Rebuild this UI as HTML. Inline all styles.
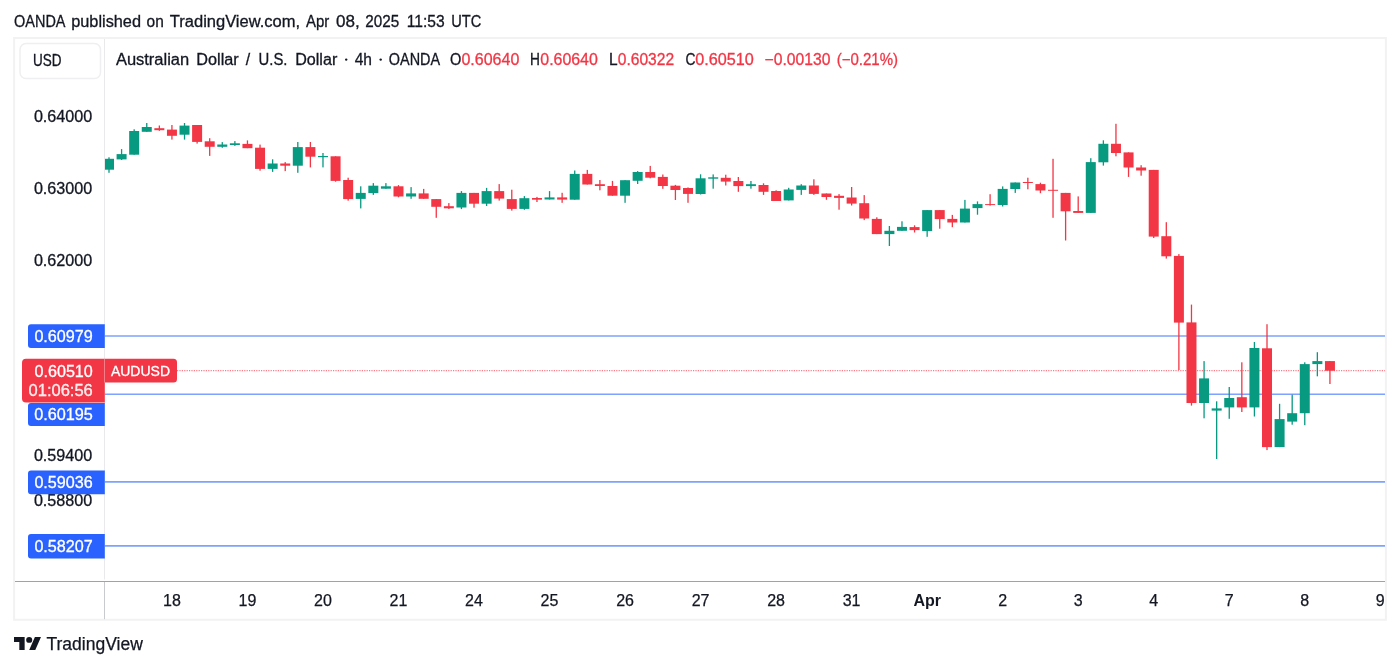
<!DOCTYPE html>
<html><head><meta charset="utf-8">
<style>
html,body{margin:0;padding:0;background:#fff;width:1400px;height:668px;overflow:hidden}
svg{position:absolute;left:0;top:0;will-change:transform;font-family:"Liberation Sans",sans-serif}
</style></head>
<body>
<svg width="1400" height="668" viewBox="0 0 1400 668">
<rect width="1400" height="668" fill="#fff"/>
<text x="14.1" y="26.6" font-size="16" fill="#131722" stroke="#131722" stroke-width="0.3" textLength="51.4" lengthAdjust="spacingAndGlyphs">OANDA</text>
<text x="71.2" y="26.6" font-size="16" fill="#131722" stroke="#131722" stroke-width="0.3" textLength="69.8" lengthAdjust="spacingAndGlyphs">published</text>
<text x="146.6" y="26.6" font-size="16" fill="#131722" stroke="#131722" stroke-width="0.3" textLength="17.2" lengthAdjust="spacingAndGlyphs">on</text>
<text x="169.8" y="26.6" font-size="16" fill="#131722" stroke="#131722" stroke-width="0.3" textLength="130.3" lengthAdjust="spacingAndGlyphs">TradingView.com,</text>
<text x="306.0" y="26.6" font-size="16" fill="#131722" stroke="#131722" stroke-width="0.3" textLength="23.3" lengthAdjust="spacingAndGlyphs">Apr</text>
<text x="336.1" y="26.6" font-size="16" fill="#131722" stroke="#131722" stroke-width="0.3" textLength="23.7" lengthAdjust="spacingAndGlyphs">08,</text>
<text x="365.3" y="26.6" font-size="16" fill="#131722" stroke="#131722" stroke-width="0.3" textLength="33.9" lengthAdjust="spacingAndGlyphs">2025</text>
<text x="406.7" y="26.6" font-size="16" fill="#131722" stroke="#131722" stroke-width="0.3" textLength="37.9" lengthAdjust="spacingAndGlyphs">11:53</text>
<text x="451.2" y="26.6" font-size="16" fill="#131722" stroke="#131722" stroke-width="0.3" textLength="30.1" lengthAdjust="spacingAndGlyphs">UTC</text>
<!-- frame -->
<rect x="14.1" y="38.05" width="1371.8" height="581.7" fill="none" stroke="#f2f2f3" stroke-width="2"/>
<line x1="104.5" y1="39" x2="104.5" y2="579.5" stroke="#e9e9ec" stroke-width="1"/>
<line x1="104.5" y1="582" x2="104.5" y2="619.2" stroke="#c9cace" stroke-width="1"/>
<line x1="15" y1="581.5" x2="1385" y2="581.5" stroke="#9fa2aa" stroke-width="1"/>
<!-- USD box -->
<rect x="20" y="43.5" width="80.5" height="35" rx="6" fill="#fff" stroke="#efeff1" stroke-width="1.5"/>
<text x="33" y="66.1" font-size="16" fill="#131722" stroke="#131722" stroke-width="0.3" textLength="28.5" lengthAdjust="spacingAndGlyphs">USD</text>
<!-- legend -->
<text x="115.9" y="65" font-size="16" fill="#131722" stroke="#131722" stroke-width="0.3" textLength="73.3" lengthAdjust="spacingAndGlyphs">Australian</text>
<text x="196.3" y="65" font-size="16" fill="#131722" stroke="#131722" stroke-width="0.3" textLength="42.4" lengthAdjust="spacingAndGlyphs">Dollar</text>
<text x="245.8" y="65" font-size="16" fill="#131722" stroke="#131722" stroke-width="0.3" textLength="4.4" lengthAdjust="spacingAndGlyphs">/</text>
<text x="258.6" y="65" font-size="16" fill="#131722" stroke="#131722" stroke-width="0.3" textLength="28.9" lengthAdjust="spacingAndGlyphs">U.S.</text>
<text x="295.2" y="65" font-size="16" fill="#131722" stroke="#131722" stroke-width="0.3" textLength="42.1" lengthAdjust="spacingAndGlyphs">Dollar</text>
<text x="354.7" y="65" font-size="16" fill="#131722" stroke="#131722" stroke-width="0.3" textLength="17.3" lengthAdjust="spacingAndGlyphs">4h</text>
<text x="388.8" y="65" font-size="16" fill="#131722" stroke="#131722" stroke-width="0.3" textLength="51.3" lengthAdjust="spacingAndGlyphs">OANDA</text>
<circle cx="346.2" cy="59.6" r="1.2" fill="#131722"/><circle cx="380.7" cy="59.6" r="1.2" fill="#131722"/>
<text x="461.4" y="65" font-size="16" fill="#f23645" stroke="#f23645" stroke-width="0.3" textLength="57.9" lengthAdjust="spacingAndGlyphs">0.60640</text>
<text x="540.3" y="65" font-size="16" fill="#f23645" stroke="#f23645" stroke-width="0.3" textLength="57.5" lengthAdjust="spacingAndGlyphs">0.60640</text>
<text x="617.8" y="65" font-size="16" fill="#f23645" stroke="#f23645" stroke-width="0.3" textLength="56.3" lengthAdjust="spacingAndGlyphs">0.60322</text>
<text x="695.2" y="65" font-size="16" fill="#f23645" stroke="#f23645" stroke-width="0.3" textLength="58.6" lengthAdjust="spacingAndGlyphs">0.60510</text>
<text x="764.6" y="65" font-size="16" fill="#f23645" stroke="#f23645" stroke-width="0.3" textLength="65.8" lengthAdjust="spacingAndGlyphs">−0.00130</text>
<text x="836.7" y="65" font-size="16" fill="#f23645" stroke="#f23645" stroke-width="0.3" textLength="61.4" lengthAdjust="spacingAndGlyphs">(−0.21%)</text>
<text x="450.0" y="65" font-size="16" fill="#131722" stroke="#131722" stroke-width="0.3" textLength="11.3" lengthAdjust="spacingAndGlyphs">O</text>
<text x="530.1" y="65" font-size="16" fill="#131722" stroke="#131722" stroke-width="0.3" textLength="9.9" lengthAdjust="spacingAndGlyphs">H</text>
<text x="608.9" y="65" font-size="16" fill="#131722" stroke="#131722" stroke-width="0.3" textLength="8.6" lengthAdjust="spacingAndGlyphs">L</text>
<text x="685.5" y="65" font-size="16" fill="#131722" stroke="#131722" stroke-width="0.3" textLength="10.0" lengthAdjust="spacingAndGlyphs">C</text>
<!-- blue lines -->
<g stroke="#2962ff" stroke-opacity="0.6" stroke-width="1.6">
<line x1="105" y1="336" x2="1385" y2="336"/>
<line x1="105" y1="394.2" x2="1385" y2="394.2"/>
<line x1="105" y1="481.9" x2="1385" y2="481.9"/>
<line x1="105" y1="545.9" x2="1385" y2="545.9"/>
</g>
<!-- current price dotted line -->
<line x1="177" y1="370.6" x2="1385" y2="370.6" stroke="#f23645" stroke-opacity="0.65" stroke-width="1.2" stroke-dasharray="1.2 1.2"/>
<!-- candles -->
<clipPath id="pc"><rect x="105" y="39" width="1280" height="542"/></clipPath>
<g clip-path="url(#pc)">
<rect x="108.35" y="157.3" width="1.3" height="15.5" fill="#089981"/>
<rect x="104.00" y="158.8" width="10.0" height="10.9" fill="#089981"/>
<rect x="120.94" y="149.1" width="1.3" height="10.9" fill="#089981"/>
<rect x="116.59" y="154.1" width="10.0" height="5.3" fill="#089981"/>
<rect x="133.52" y="129.3" width="1.3" height="25.4" fill="#089981"/>
<rect x="129.17" y="131.0" width="10.0" height="23.7" fill="#089981"/>
<rect x="146.11" y="123.0" width="1.3" height="8.8" fill="#089981"/>
<rect x="141.76" y="127.0" width="10.0" height="4.8" fill="#089981"/>
<rect x="158.70" y="125.5" width="1.3" height="5.3" fill="#f23645"/>
<rect x="154.35" y="128.2" width="10.0" height="2.0" fill="#f23645"/>
<rect x="171.28" y="125.0" width="1.3" height="14.6" fill="#f23645"/>
<rect x="166.94" y="129.6" width="10.0" height="6.2" fill="#f23645"/>
<rect x="183.87" y="123.0" width="1.3" height="16.6" fill="#089981"/>
<rect x="179.52" y="125.6" width="10.0" height="9.1" fill="#089981"/>
<rect x="196.46" y="125.0" width="1.3" height="18.6" fill="#f23645"/>
<rect x="192.11" y="125.0" width="10.0" height="16.9" fill="#f23645"/>
<rect x="209.05" y="138.2" width="1.3" height="17.7" fill="#f23645"/>
<rect x="204.70" y="141.3" width="10.0" height="5.5" fill="#f23645"/>
<rect x="221.63" y="142.1" width="1.3" height="5.7" fill="#089981"/>
<rect x="217.28" y="144.5" width="10.0" height="2.3" fill="#089981"/>
<rect x="234.22" y="141.1" width="1.3" height="4.8" fill="#089981"/>
<rect x="229.87" y="143.3" width="10.0" height="1.7" fill="#089981"/>
<rect x="246.81" y="140.4" width="1.3" height="7.8" fill="#f23645"/>
<rect x="242.46" y="143.9" width="10.0" height="4.3" fill="#f23645"/>
<rect x="259.39" y="144.6" width="1.3" height="26.1" fill="#f23645"/>
<rect x="255.04" y="147.7" width="10.0" height="21.2" fill="#f23645"/>
<rect x="271.98" y="159.3" width="1.3" height="12.6" fill="#089981"/>
<rect x="267.63" y="163.5" width="10.0" height="5.4" fill="#089981"/>
<rect x="284.57" y="162.1" width="1.3" height="9.0" fill="#f23645"/>
<rect x="280.22" y="163.5" width="10.0" height="2.2" fill="#f23645"/>
<rect x="297.16" y="142.0" width="1.3" height="30.8" fill="#089981"/>
<rect x="292.81" y="147.1" width="10.0" height="18.6" fill="#089981"/>
<rect x="309.74" y="142.0" width="1.3" height="25.4" fill="#f23645"/>
<rect x="305.39" y="147.1" width="10.0" height="9.6" fill="#f23645"/>
<rect x="322.33" y="153.0" width="1.3" height="14.4" fill="#089981"/>
<rect x="317.98" y="156.0" width="10.0" height="1.2" fill="#089981"/>
<rect x="334.92" y="156.3" width="1.3" height="25.4" fill="#f23645"/>
<rect x="330.57" y="156.3" width="10.0" height="24.6" fill="#f23645"/>
<rect x="347.50" y="177.7" width="1.3" height="23.0" fill="#f23645"/>
<rect x="343.15" y="180.0" width="10.0" height="19.1" fill="#f23645"/>
<rect x="360.09" y="186.3" width="1.3" height="22.1" fill="#089981"/>
<rect x="355.74" y="192.9" width="10.0" height="6.0" fill="#089981"/>
<rect x="372.68" y="183.1" width="1.3" height="11.8" fill="#089981"/>
<rect x="368.33" y="185.7" width="10.0" height="7.4" fill="#089981"/>
<rect x="385.26" y="183.1" width="1.3" height="5.6" fill="#089981"/>
<rect x="380.91" y="186.3" width="10.0" height="2.4" fill="#089981"/>
<rect x="397.85" y="185.1" width="1.3" height="12.2" fill="#f23645"/>
<rect x="393.50" y="186.3" width="10.0" height="10.2" fill="#f23645"/>
<rect x="410.44" y="187.1" width="1.3" height="11.7" fill="#089981"/>
<rect x="406.09" y="193.4" width="10.0" height="3.1" fill="#089981"/>
<rect x="423.03" y="188.9" width="1.3" height="9.9" fill="#f23645"/>
<rect x="418.68" y="193.4" width="10.0" height="5.4" fill="#f23645"/>
<rect x="435.61" y="199.1" width="1.3" height="18.7" fill="#f23645"/>
<rect x="431.26" y="199.1" width="10.0" height="7.7" fill="#f23645"/>
<rect x="448.20" y="203.1" width="1.3" height="5.8" fill="#f23645"/>
<rect x="443.85" y="206.2" width="10.0" height="2.1" fill="#f23645"/>
<rect x="460.79" y="191.1" width="1.3" height="18.0" fill="#089981"/>
<rect x="456.44" y="192.9" width="10.0" height="14.6" fill="#089981"/>
<rect x="473.37" y="192.9" width="1.3" height="14.8" fill="#f23645"/>
<rect x="469.02" y="192.9" width="10.0" height="10.8" fill="#f23645"/>
<rect x="485.96" y="187.9" width="1.3" height="18.1" fill="#089981"/>
<rect x="481.61" y="191.1" width="10.0" height="12.6" fill="#089981"/>
<rect x="498.55" y="184.1" width="1.3" height="16.5" fill="#f23645"/>
<rect x="494.20" y="191.1" width="10.0" height="7.5" fill="#f23645"/>
<rect x="511.13" y="189.7" width="1.3" height="20.9" fill="#f23645"/>
<rect x="506.78" y="199.1" width="10.0" height="9.8" fill="#f23645"/>
<rect x="523.72" y="196.1" width="1.3" height="13.7" fill="#089981"/>
<rect x="519.37" y="198.2" width="10.0" height="10.7" fill="#089981"/>
<rect x="536.31" y="196.9" width="1.3" height="5.1" fill="#f23645"/>
<rect x="531.96" y="198.0" width="10.0" height="1.7" fill="#f23645"/>
<rect x="548.90" y="191.1" width="1.3" height="8.4" fill="#089981"/>
<rect x="544.55" y="197.4" width="10.0" height="2.1" fill="#089981"/>
<rect x="561.48" y="192.8" width="1.3" height="10.0" fill="#f23645"/>
<rect x="557.13" y="197.4" width="10.0" height="2.2" fill="#f23645"/>
<rect x="574.07" y="170.5" width="1.3" height="29.2" fill="#089981"/>
<rect x="569.72" y="173.9" width="10.0" height="25.8" fill="#089981"/>
<rect x="586.66" y="169.9" width="1.3" height="14.6" fill="#f23645"/>
<rect x="582.31" y="173.9" width="10.0" height="10.6" fill="#f23645"/>
<rect x="599.24" y="180.0" width="1.3" height="10.3" fill="#f23645"/>
<rect x="594.89" y="184.2" width="10.0" height="1.8" fill="#f23645"/>
<rect x="611.83" y="180.9" width="1.3" height="14.8" fill="#f23645"/>
<rect x="607.48" y="186.0" width="10.0" height="9.7" fill="#f23645"/>
<rect x="624.42" y="180.2" width="1.3" height="22.6" fill="#089981"/>
<rect x="620.07" y="180.2" width="10.0" height="15.5" fill="#089981"/>
<rect x="637.00" y="171.1" width="1.3" height="12.9" fill="#089981"/>
<rect x="632.65" y="172.0" width="10.0" height="8.8" fill="#089981"/>
<rect x="649.59" y="165.9" width="1.3" height="12.4" fill="#f23645"/>
<rect x="645.24" y="172.0" width="10.0" height="5.7" fill="#f23645"/>
<rect x="662.18" y="174.5" width="1.3" height="14.3" fill="#f23645"/>
<rect x="657.83" y="176.9" width="10.0" height="9.1" fill="#f23645"/>
<rect x="674.76" y="184.9" width="1.3" height="15.1" fill="#f23645"/>
<rect x="670.41" y="185.7" width="10.0" height="4.3" fill="#f23645"/>
<rect x="687.35" y="187.4" width="1.3" height="15.4" fill="#f23645"/>
<rect x="683.00" y="188.0" width="10.0" height="5.9" fill="#f23645"/>
<rect x="699.94" y="174.3" width="1.3" height="20.2" fill="#089981"/>
<rect x="695.59" y="178.3" width="10.0" height="15.7" fill="#089981"/>
<rect x="712.53" y="174.4" width="1.3" height="14.3" fill="#089981"/>
<rect x="708.18" y="177.3" width="10.0" height="1.4" fill="#089981"/>
<rect x="725.11" y="174.7" width="1.3" height="10.8" fill="#f23645"/>
<rect x="720.76" y="177.8" width="10.0" height="3.8" fill="#f23645"/>
<rect x="737.70" y="177.0" width="1.3" height="14.8" fill="#f23645"/>
<rect x="733.35" y="181.0" width="10.0" height="5.1" fill="#f23645"/>
<rect x="750.29" y="181.0" width="1.3" height="7.7" fill="#089981"/>
<rect x="745.94" y="184.2" width="10.0" height="1.9" fill="#089981"/>
<rect x="762.87" y="183.3" width="1.3" height="11.6" fill="#f23645"/>
<rect x="758.52" y="185.0" width="10.0" height="6.8" fill="#f23645"/>
<rect x="775.46" y="190.3" width="1.3" height="10.7" fill="#f23645"/>
<rect x="771.11" y="191.0" width="10.0" height="10.0" fill="#f23645"/>
<rect x="788.05" y="187.8" width="1.3" height="12.6" fill="#089981"/>
<rect x="783.70" y="189.5" width="10.0" height="10.9" fill="#089981"/>
<rect x="800.63" y="184.2" width="1.3" height="10.7" fill="#089981"/>
<rect x="796.28" y="185.5" width="10.0" height="4.4" fill="#089981"/>
<rect x="813.22" y="179.3" width="1.3" height="15.6" fill="#f23645"/>
<rect x="808.87" y="185.5" width="10.0" height="8.4" fill="#f23645"/>
<rect x="825.81" y="193.5" width="1.3" height="6.3" fill="#f23645"/>
<rect x="821.46" y="193.5" width="10.0" height="3.5" fill="#f23645"/>
<rect x="838.40" y="194.1" width="1.3" height="15.6" fill="#f23645"/>
<rect x="834.05" y="195.8" width="10.0" height="2.1" fill="#f23645"/>
<rect x="850.98" y="187.0" width="1.3" height="18.5" fill="#f23645"/>
<rect x="846.63" y="197.5" width="10.0" height="6.1" fill="#f23645"/>
<rect x="863.57" y="195.1" width="1.3" height="25.0" fill="#f23645"/>
<rect x="859.22" y="203.2" width="10.0" height="15.3" fill="#f23645"/>
<rect x="876.16" y="217.3" width="1.3" height="16.8" fill="#f23645"/>
<rect x="871.81" y="218.9" width="10.0" height="15.2" fill="#f23645"/>
<rect x="888.74" y="226.0" width="1.3" height="20.0" fill="#089981"/>
<rect x="884.39" y="230.8" width="10.0" height="3.3" fill="#089981"/>
<rect x="901.33" y="221.3" width="1.3" height="9.5" fill="#089981"/>
<rect x="896.98" y="226.9" width="10.0" height="3.9" fill="#089981"/>
<rect x="913.92" y="225.3" width="1.3" height="7.2" fill="#f23645"/>
<rect x="909.57" y="227.1" width="10.0" height="3.0" fill="#f23645"/>
<rect x="926.50" y="210.1" width="1.3" height="26.7" fill="#089981"/>
<rect x="922.15" y="210.1" width="10.0" height="21.0" fill="#089981"/>
<rect x="939.09" y="210.1" width="1.3" height="18.6" fill="#f23645"/>
<rect x="934.74" y="210.1" width="10.0" height="9.0" fill="#f23645"/>
<rect x="951.68" y="214.9" width="1.3" height="12.3" fill="#f23645"/>
<rect x="947.33" y="218.9" width="10.0" height="3.6" fill="#f23645"/>
<rect x="964.27" y="199.9" width="1.3" height="22.6" fill="#089981"/>
<rect x="959.92" y="208.6" width="10.0" height="13.9" fill="#089981"/>
<rect x="976.85" y="201.4" width="1.3" height="13.3" fill="#089981"/>
<rect x="972.50" y="204.1" width="10.0" height="4.0" fill="#089981"/>
<rect x="989.44" y="194.2" width="1.3" height="11.4" fill="#f23645"/>
<rect x="985.09" y="204.1" width="10.0" height="1.0" fill="#f23645"/>
<rect x="1002.03" y="186.4" width="1.3" height="20.1" fill="#089981"/>
<rect x="997.68" y="188.9" width="10.0" height="16.1" fill="#089981"/>
<rect x="1014.61" y="182.5" width="1.3" height="10.4" fill="#089981"/>
<rect x="1010.26" y="182.5" width="10.0" height="6.5" fill="#089981"/>
<rect x="1027.20" y="177.7" width="1.3" height="11.6" fill="#f23645"/>
<rect x="1022.85" y="182.0" width="10.0" height="1.0" fill="#f23645"/>
<rect x="1039.79" y="182.7" width="1.3" height="10.5" fill="#f23645"/>
<rect x="1035.44" y="184.1" width="10.0" height="6.4" fill="#f23645"/>
<rect x="1052.38" y="158.8" width="1.3" height="59.0" fill="#f23645"/>
<rect x="1048.03" y="189.8" width="10.0" height="1.0" fill="#f23645"/>
<rect x="1064.96" y="192.9" width="1.3" height="47.6" fill="#f23645"/>
<rect x="1060.61" y="192.9" width="10.0" height="18.4" fill="#f23645"/>
<rect x="1077.55" y="196.4" width="1.3" height="16.5" fill="#f23645"/>
<rect x="1073.20" y="211.0" width="10.0" height="1.9" fill="#f23645"/>
<rect x="1090.14" y="158.2" width="1.3" height="54.7" fill="#089981"/>
<rect x="1085.79" y="162.1" width="10.0" height="50.8" fill="#089981"/>
<rect x="1102.72" y="140.3" width="1.3" height="25.3" fill="#089981"/>
<rect x="1098.37" y="143.8" width="10.0" height="18.5" fill="#089981"/>
<rect x="1115.31" y="123.8" width="1.3" height="32.5" fill="#f23645"/>
<rect x="1110.96" y="143.8" width="10.0" height="9.2" fill="#f23645"/>
<rect x="1127.90" y="152.4" width="1.3" height="24.5" fill="#f23645"/>
<rect x="1123.55" y="152.4" width="10.0" height="15.1" fill="#f23645"/>
<rect x="1140.48" y="165.2" width="1.3" height="10.5" fill="#f23645"/>
<rect x="1136.13" y="167.5" width="10.0" height="3.0" fill="#f23645"/>
<rect x="1153.07" y="169.9" width="1.3" height="68.1" fill="#f23645"/>
<rect x="1148.72" y="169.9" width="10.0" height="66.7" fill="#f23645"/>
<rect x="1165.66" y="222.2" width="1.3" height="36.4" fill="#f23645"/>
<rect x="1161.31" y="236.2" width="10.0" height="20.1" fill="#f23645"/>
<rect x="1178.24" y="254.1" width="1.3" height="115.9" fill="#f23645"/>
<rect x="1173.89" y="255.9" width="10.0" height="66.7" fill="#f23645"/>
<rect x="1190.83" y="304.6" width="1.3" height="101.0" fill="#f23645"/>
<rect x="1186.48" y="322.4" width="10.0" height="80.6" fill="#f23645"/>
<rect x="1203.42" y="361.1" width="1.3" height="57.2" fill="#089981"/>
<rect x="1199.07" y="378.4" width="10.0" height="24.6" fill="#089981"/>
<rect x="1216.01" y="401.3" width="1.3" height="57.7" fill="#089981"/>
<rect x="1211.66" y="408.4" width="10.0" height="2.2" fill="#089981"/>
<rect x="1228.59" y="387.0" width="1.3" height="31.8" fill="#089981"/>
<rect x="1224.24" y="398.0" width="10.0" height="9.4" fill="#089981"/>
<rect x="1241.18" y="362.3" width="1.3" height="49.7" fill="#f23645"/>
<rect x="1236.83" y="397.2" width="10.0" height="10.2" fill="#f23645"/>
<rect x="1253.77" y="342.0" width="1.3" height="74.5" fill="#089981"/>
<rect x="1249.42" y="348.0" width="10.0" height="59.4" fill="#089981"/>
<rect x="1266.35" y="324.2" width="1.3" height="125.9" fill="#f23645"/>
<rect x="1262.00" y="348.3" width="10.0" height="98.8" fill="#f23645"/>
<rect x="1278.94" y="403.8" width="1.3" height="43.3" fill="#089981"/>
<rect x="1274.59" y="419.1" width="10.0" height="28.0" fill="#089981"/>
<rect x="1291.53" y="394.7" width="1.3" height="30.0" fill="#089981"/>
<rect x="1287.18" y="413.2" width="10.0" height="8.4" fill="#089981"/>
<rect x="1304.11" y="362.3" width="1.3" height="62.9" fill="#089981"/>
<rect x="1299.76" y="364.1" width="10.0" height="49.1" fill="#089981"/>
<rect x="1316.70" y="352.2" width="1.3" height="24.1" fill="#089981"/>
<rect x="1312.35" y="361.1" width="10.0" height="3.0" fill="#089981"/>
<rect x="1329.29" y="361.1" width="1.3" height="22.9" fill="#f23645"/>
<rect x="1324.94" y="361.1" width="10.0" height="9.6" fill="#f23645"/>
</g>
<!-- price axis labels -->
<g font-size="16" fill="#131722" stroke="#131722" stroke-width="0.3">
<text x="33.9" y="122.3" textLength="58.4" lengthAdjust="spacingAndGlyphs">0.64000</text>
<text x="33.9" y="194.3" textLength="58.4" lengthAdjust="spacingAndGlyphs">0.63000</text>
<text x="33.9" y="266.2" textLength="58.4" lengthAdjust="spacingAndGlyphs">0.62000</text>
<text x="33.9" y="460.6" textLength="58.4" lengthAdjust="spacingAndGlyphs">0.59400</text>
<text x="33.9" y="506.4" textLength="58.4" lengthAdjust="spacingAndGlyphs">0.58800</text>
</g>
<!-- label boxes -->
<path d="M31,324.2 H104.8 V348.1 H31 a3,3 0 0 1 -3,-3 V327.2 a3,3 0 0 1 3,-3 z" fill="#2962ff"/>
<path d="M31,402.9 H104.8 V425.9 H31 a3,3 0 0 1 -3,-3 V405.9 a3,3 0 0 1 3,-3 z" fill="#2962ff"/>
<path d="M31,470.4 H104.8 V494.3 H31 a3,3 0 0 1 -3,-3 V473.4 a3,3 0 0 1 3,-3 z" fill="#2962ff"/>
<path d="M31,534 H104.8 V558.5 H31 a3,3 0 0 1 -3,-3 V537 a3,3 0 0 1 3,-3 z" fill="#2962ff"/>
<path d="M26,358.7 H104.8 V402.5 H26 a4,4 0 0 1 -4,-4 V362.7 a4,4 0 0 1 4,-4 z" fill="#f23645"/>
<path d="M104.8,358.7 H173.5 a3.5,3.5 0 0 1 3.5,3.5 V379 a3.5,3.5 0 0 1 -3.5,3.5 H104.8 z" fill="#f23645"/>
<line x1="104.5" y1="358.7" x2="104.5" y2="382.5" stroke="#ffffff" stroke-opacity="0.25" stroke-width="1"/>
<g font-size="16" fill="#fff" stroke="#fff" stroke-width="0.3">
<text x="34.4" y="341.6" textLength="58.4" lengthAdjust="spacingAndGlyphs">0.60979</text>
<text x="34.5" y="376.5" textLength="58.3" lengthAdjust="spacingAndGlyphs">0.60510</text>
<text x="28.6" y="396.4" textLength="64.2" lengthAdjust="spacingAndGlyphs" fill-opacity="0.88">01:06:56</text>
<text x="34.2" y="419.6" textLength="58.7" lengthAdjust="spacingAndGlyphs">0.60195</text>
<text x="34.4" y="488.2" textLength="58.3" lengthAdjust="spacingAndGlyphs">0.59036</text>
<text x="34.4" y="552.3" textLength="58.3" lengthAdjust="spacingAndGlyphs">0.58207</text>
</g>
<text x="110.9" y="376.4" font-size="14" fill="#fff" stroke="#fff" stroke-width="0.3">AUDUSD</text>
<!-- time axis -->
<g font-size="16" fill="#131722" stroke="#131722" stroke-width="0.25">
<text x="171.9" y="606.4" text-anchor="middle">18</text>
<text x="247.5" y="606.4" text-anchor="middle">19</text>
<text x="323.0" y="606.4" text-anchor="middle">20</text>
<text x="398.5" y="606.4" text-anchor="middle">21</text>
<text x="474.0" y="606.4" text-anchor="middle">24</text>
<text x="549.5" y="606.4" text-anchor="middle">25</text>
<text x="625.1" y="606.4" text-anchor="middle">26</text>
<text x="700.6" y="606.4" text-anchor="middle">27</text>
<text x="776.1" y="606.4" text-anchor="middle">28</text>
<text x="851.6" y="606.4" text-anchor="middle">31</text>
<text x="927.2" y="606.4" text-anchor="middle" font-weight="bold" stroke-width="0">Apr</text>
<text x="1002.7" y="606.4" text-anchor="middle">2</text>
<text x="1078.2" y="606.4" text-anchor="middle">3</text>
<text x="1153.7" y="606.4" text-anchor="middle">4</text>
<text x="1229.2" y="606.4" text-anchor="middle">7</text>
<text x="1304.8" y="606.4" text-anchor="middle">8</text>
<text x="1380.3" y="606.4" text-anchor="middle">9</text>
</g>
<!-- footer logo -->
<g transform="translate(14,634.1) scale(0.76,0.725)" fill="#131722">
<path d="M14 22H7V11H0V4h14v18zM28 22h-8l7.5-18h8L28 22z"/><circle cx="20" cy="8" r="4"/>
</g>
<text x="46.5" y="650" font-size="17.5" fill="#131722" stroke="#131722" stroke-width="0.25">TradingView</text>
</svg>
</body></html>
